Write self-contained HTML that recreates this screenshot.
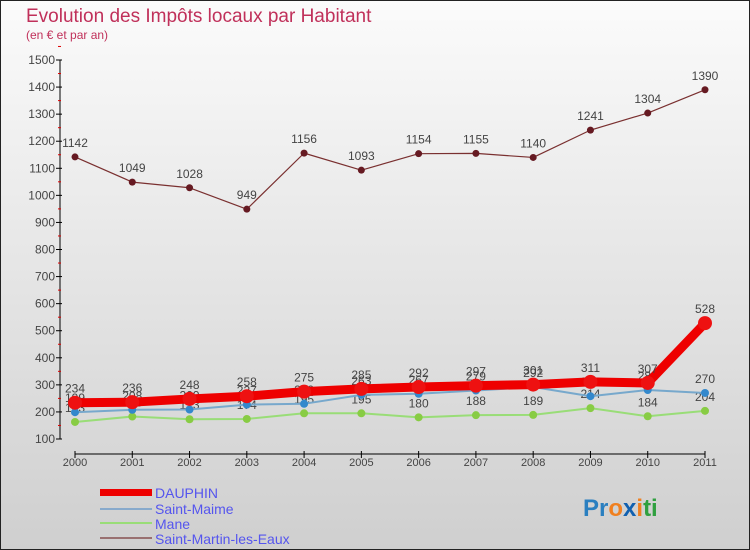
<!DOCTYPE html>
<html><head><meta charset="utf-8"><style>
body{margin:0;width:750px;height:550px;overflow:hidden;font-family:"Liberation Sans",sans-serif}
svg{display:block}
</style></head><body>
<svg id="chart" width="750" height="550" xmlns="http://www.w3.org/2000/svg">
<defs><linearGradient id="bg" x1="0" y1="0" x2="0" y2="1"><stop offset="0" stop-color="#fbfbfb"/><stop offset="1" stop-color="#cfcfcf"/></linearGradient></defs>
<rect x="0.5" y="0.5" width="749" height="549" fill="url(#bg)" stroke="#222"/>
<text x="26" y="22" font-size="19" fill="#c0305a">Evolution des Impôts locaux par Habitant</text>
<text x="26" y="39" font-size="12" fill="#c0305a">(en € et par an)</text>
<g id="axes"></g><g id="series"></g>
<g font-size="14" fill="#5555ee">
<rect x="100" y="489" width="52" height="7" fill="#ee0000"/>
<text x="155" y="498">DAUPHIN</text>
<rect x="100" y="508" width="52" height="2" fill="#88aacc"/>
<text x="155" y="514">Saint-Maime</text>
<rect x="100" y="522" width="52" height="2" fill="#99dd77"/>
<text x="155" y="529">Mane</text>
<rect x="100" y="537" width="52" height="2" fill="#997070"/>
<text x="155" y="544">Saint-Martin-les-Eaux</text>
</g>
<text x="583" y="516" font-size="24" font-weight="bold"><tspan fill="#2a7fc0">Pr</tspan><tspan fill="#f08020">o</tspan><tspan fill="#1060b0">x</tspan><tspan fill="#f08020">i</tspan><tspan fill="#30a040">ti</tspan></text>
</svg>
<script>
const years=[2000,2001,2002,2003,2004,2005,2006,2007,2008,2009,2010,2011];
const yTicks=[100,200,300,400,500,600,700,800,900,1000,1100,1200,1300,1400,1500];
const dauphin=[234,236,248,258,275,285,292,297,301,311,307,528];
const saintMaime=[199,208,209,227,230,263,267,279,292,258,281,270];
const mane=[163,183,173,174,195,195,180,188,189,214,184,204];
const saintMartin=[1142,1049,1028,949,1156,1093,1154,1155,1140,1241,1304,1390];
const NS="http://www.w3.org/2000/svg";
const X=i=>75+i*(630/11);
const Y=v=>439-(v-100)*(379/1400);
function mk(t,a,p){const e=document.createElementNS(NS,t);for(const k in a)e.setAttribute(k,a[k]);p.appendChild(e);return e;}
const ax=document.getElementById('axes'),sg=document.getElementById('series');
const yAxis=mk('line',{x1:60,y1:60,x2:60,y2:439,stroke:'#000'},ax);


const xAxis=mk('line',{x1:75,y1:454,x2:705,y2:454,stroke:'#000'},ax);


yTicks.forEach(v=>{
 mk('line',{x1:56,y1:Y(v),x2:62,y2:Y(v),stroke:'#000'},ax);
 mk('line',{x1:58,y1:Y(v+50),x2:61,y2:Y(v+50),stroke:'#d00'},ax);
 const t=mk('text',{x:55,y:Y(v)+4,'font-size':12,fill:'#444','text-anchor':'end'},ax);t.textContent=v;
 
 
});
years.forEach((yr,i)=>{
 mk('line',{x1:X(i),y1:451,x2:X(i),y2:458,stroke:'#000'},ax);
 const t=mk('text',{x:X(i),y:466,'font-size':11,fill:'#444','text-anchor':'middle'},ax);t.textContent=yr;
 
 
});
function series(vals,name,lc,lw,dc,r,showLabels){
 const g=mk('g',{},sg);
 
 
 mk('polyline',{points:vals.map((v,i)=>X(i)+','+Y(v)).join(' '),fill:'none',stroke:lc,'stroke-width':lw,'stroke-linejoin':'round'},g);
 vals.forEach((v,i)=>{
  const c=mk('circle',{cx:X(i),cy:Y(v),r:r,fill:dc},g);
  
  
  if(showLabels){const t=mk('text',{x:X(i),y:Y(v)-10,'font-size':12,fill:'#444','text-anchor':'middle'},g);t.textContent=v;}
 });
}
series(mane,'series-mane','#99dd77',2,'#88cc44',4,true);
series(saintMaime,'series-saint-maime','#77a8cc',2,'#3388cc',4,true);
series(saintMartin,'series-saint-martin','#7a3030',1.2,'#661a22',3.5,true);
series(dauphin,'series-dauphin','#ee0000',9,'#ee1111',7,true);
</script>
</body></html>
